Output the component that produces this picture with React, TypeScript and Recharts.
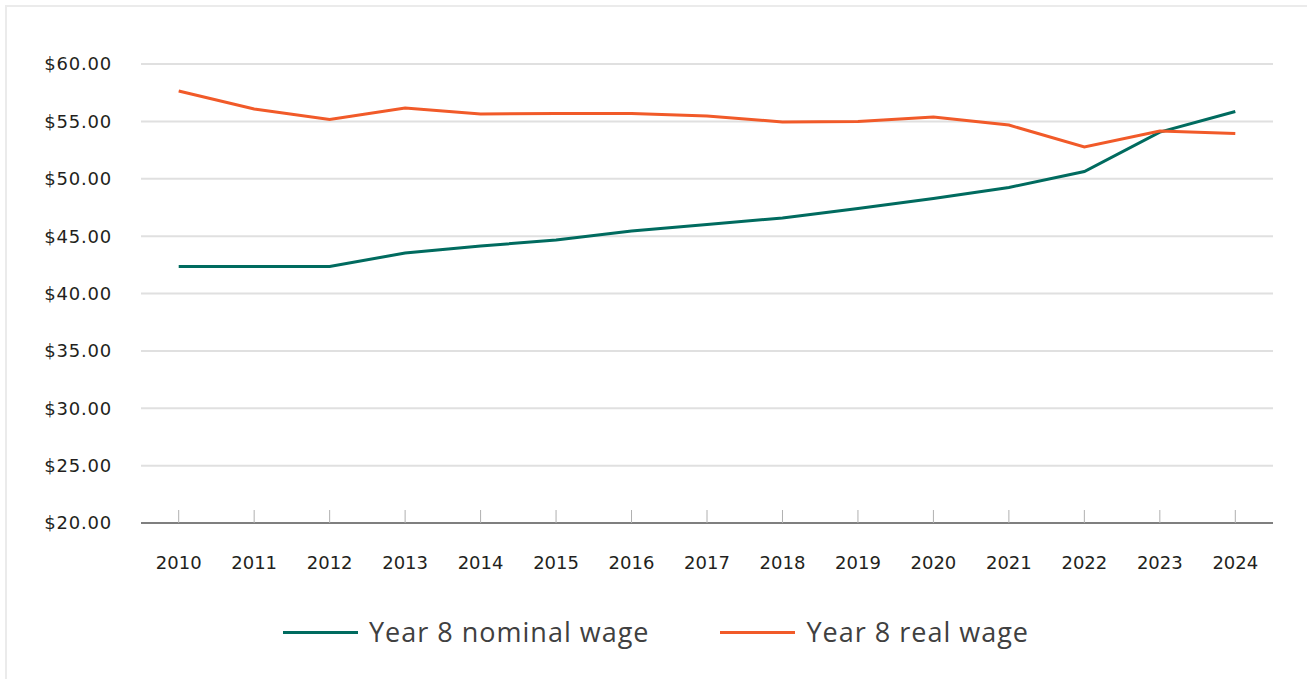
import React from "react";
import { LineChart, Line, XAxis, YAxis, CartesianGrid, Legend } from "recharts";

const years = ["2010","2011","2012","2013","2014","2015","2016","2017","2018","2019","2020","2021","2022","2023","2024"];
const nominalWage = [42.35, 42.35, 42.35, 43.53, 44.14, 44.66, 45.45, 46.01, 46.58, 47.41, 48.28, 49.24, 50.63, 54.07, 55.86];
const realWage = [57.65, 56.08, 55.16, 56.17, 55.64, 55.69, 55.69, 55.47, 54.95, 54.99, 55.38, 54.68, 52.77, 54.16, 53.94];
const yTicks = [20, 25, 30, 35, 40, 45, 50, 55, 60];

const seriesNames = { nominal: "Year 8 nominal wage", real: "Year 8 real wage" };
const colors = { nominal: "#006b5f", real: "#f15a29" };

const data = years.map((y, i) => ({ year: y, nominal: nominalWage[i], real: realWage[i] }));

const LegendContent = (props: any) => {
  const payload = props.payload || [];
  return (
    <div style={{ display: "flex", justifyContent: "center", alignItems: "center", gap: 71, paddingLeft: 5 }}>
      {payload.map((p: any) => (
        <div key={p.value} style={{ display: "flex", alignItems: "center" }}>
          <div style={{ width: 75, height: 3, background: p.color, marginRight: 11 }} />
          <span style={{ fontFamily: "'Open Sans', sans-serif", fontSize: 27, color: "#404040", fontWeight: 400, lineHeight: "30px", letterSpacing: 1 }}>
            {p.value}
          </span>
        </div>
      ))}
    </div>
  );
};

export default function App() {
  return (
    <div style={{ position: "absolute", left: 0, top: 0, width: 1307, height: 679, overflow: "hidden", background: "#fff" }}>
      <div style={{ position: "absolute", left: 5, top: 5, width: 1320, height: 700, border: "2px solid #ebebeb", boxSizing: "border-box" }} />
      <div style={{ position: "absolute", left: 0, top: 0 }}>
        <LineChart width={1307} height={679} data={data} margin={{ top: 64, right: 34, bottom: 96, left: 0 }}>
          <CartesianGrid vertical={false} stroke="#e0e0e0" strokeWidth={2} />
          <XAxis
            dataKey="year"
            interval={0}
            padding={{ left: 37.7, right: 37.7 }}
            tickSize={-13}
            tickMargin={46}
            height={60}
            axisLine={{ stroke: "#7f7f7f", strokeWidth: 2 }}
            tickLine={{ stroke: "#b0b0b0", strokeWidth: 1 }}
            tick={{ fill: "#231f20", fontSize: 18, fontFamily: "'DejaVu Sans', sans-serif" }}
          />
          <YAxis
            domain={[20, 60]}
            ticks={yTicks}
            width={141}
            axisLine={false}
            tickLine={false}
            tickSize={0}
            tickMargin={29}
            tickFormatter={(v: number) => "$" + v.toFixed(2)}
            tick={{ fill: "#231f20", fontSize: 18, fontFamily: "'DejaVu Sans', sans-serif", letterSpacing: 0.8 }}
          />
          <Legend
            verticalAlign="middle"
            align="center"
            layout="horizontal"
            content={<LegendContent />}
            wrapperStyle={{ position: "absolute", top: 617, left: 0, width: 1307 }}
          />
          <Line
            type="linear"
            dataKey="nominal"
            name={seriesNames.nominal}
            stroke={colors.nominal}
            strokeWidth={3}
            dot={false}
            isAnimationActive={false}
          />
          <Line
            type="linear"
            dataKey="real"
            name={seriesNames.real}
            stroke={colors.real}
            strokeWidth={3}
            dot={false}
            isAnimationActive={false}
          />
        </LineChart>
      </div>
    </div>
  );
}
